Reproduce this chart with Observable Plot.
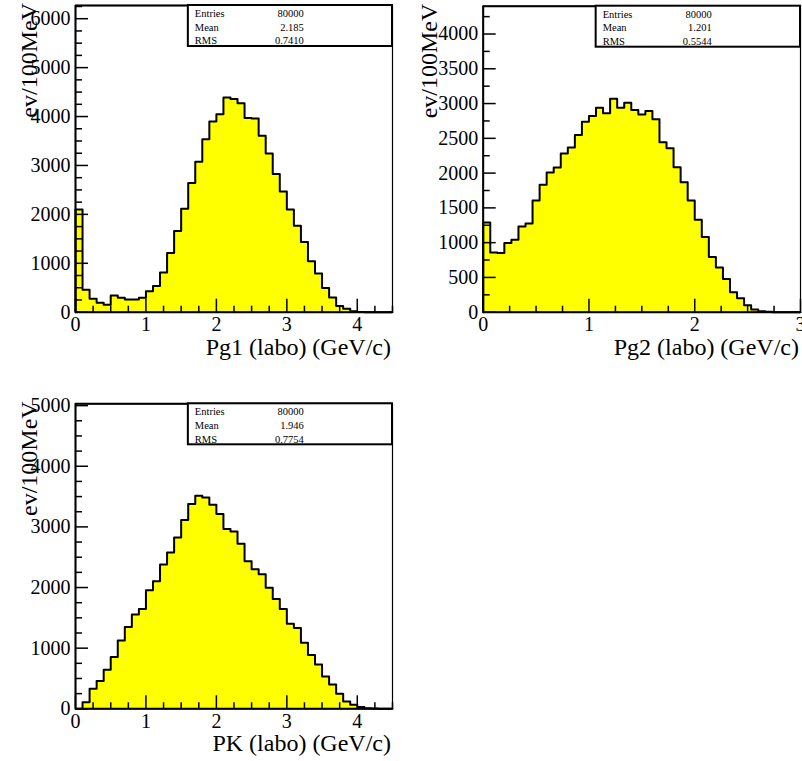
<!DOCTYPE html>
<html>
<head>
<meta charset="utf-8">
<script src="https://cdn.jsdelivr.net/npm/d3@7"></script>
<script src="https://cdn.jsdelivr.net/npm/@observablehq/plot@0.6"></script>
<style>
  body { margin: 0; background: #fff; }
  #page { position: relative; width: 802px; height: 761px; overflow: hidden; background: #fff; }
  .panel { position: absolute; }
  .panel svg { overflow: visible; font-family: "Liberation Serif", serif; }
  .panel svg text { font-family: "Liberation Serif", serif; }
</style>
</head>
<body>
<div id="page"></div>
<script>
// Bin contents, 45 bins each
const pg1Counts = [2100, 459, 274, 192, 151, 342, 294, 262, 262, 294,
  428, 537, 814, 1210, 1662, 2113, 2640, 3077, 3535, 3898,
  4049, 4390, 4356, 4274, 3970, 3960, 3605, 3245, 2823, 2469,
  2102, 1769, 1435, 1041, 789, 497, 299, 129, 68, 20,
  5, 0, 0, 0, 0];
const pg2Counts = [1290, 860, 851, 995, 1040, 1233, 1275, 1605, 1833, 2010,
  2081, 2281, 2367, 2548, 2738, 2820, 2939, 2859, 3068, 2939,
  3011, 2906, 2844, 2892, 2773, 2443, 2357, 2086, 1867, 1605,
  1329, 1081, 795, 643, 476, 286, 200, 100, 38, 14,
  5, 0, 0, 0, 0];
const pkCounts = [0, 110, 330, 457, 644, 853, 1128, 1348, 1557, 1646,
  1954, 2102, 2378, 2576, 2827, 3114, 3377, 3514, 3486, 3366,
  3212, 2965, 2926, 2724, 2433, 2300, 2218, 1998, 1811, 1646,
  1403, 1332, 1090, 886, 732, 534, 402, 248, 121, 66,
  28, 11, 5, 0, 0];

// Statistics box entries
const statLabels = ["Entries", "Mean", "RMS"];
const pg1Stats = ["80000", "2.185", "0.7410"];
const pg2Stats = ["80000", "1.201", "0.5544"];
const pkStats = ["80000", "1.946", "0.7754"];

// Axis ticks
const xTicks45 = [0, 1, 2, 3, 4];
const xTicks3 = [0, 1, 2, 3];
const yTicksPg1 = [0, 1000, 2000, 3000, 4000, 5000, 6000];
const yTicksPg2 = [0, 500, 1000, 1500, 2000, 2500, 3000, 3500, 4000];
const yTicksPk = [0, 1000, 2000, 3000, 4000, 5000];

const yTitle = "ev/100MeV";
const serif = "Liberation Serif";

function histogram(counts, lo, hi) {
  const w = (hi - lo) / counts.length;
  return counts.map((n, i) => ({x1: lo + i * w, x2: lo + (i + 1) * w, n}));
}

// Step contour of a histogram: up from zero, across every bin, back down
function contour(bins) {
  const pts = [{x: bins[0].x1, y: 0}];
  bins.forEach(b => pts.push({x: b.x1, y: b.n}));
  const last = bins[bins.length - 1];
  pts.push({x: last.x2, y: last.n});
  pts.push({x: last.x2, y: 0});
  return pts;
}

function drawPanel(cfg) {
  const {counts, xMax, yMax, xMajor, yMajor, title, stats, left, top, width, height, margin} = cfg;
  const bins = histogram(counts, 0, xMax);
  const pts = contour(bins);
  const fw = width - margin.left - margin.right;
  const fh = height - margin.top - margin.bottom;
  const yMinor = d3.range(0, yMax, 250).filter(v => !yMajor.includes(v));
  const xMinor = d3.range(0, xMax + 1e-9, 0.25).filter(v => !xMajor.includes(v));
  const tickStyle = {stroke: "black", strokeWidth: 1.5};

  const plot = Plot.plot({
    width, height,
    marginLeft: margin.left, marginRight: margin.right,
    marginTop: margin.top, marginBottom: margin.bottom,
    x: {domain: [0, xMax]},
    y: {domain: [0, yMax]},
    style: {fontFamily: serif, background: "transparent", color: "black", overflow: "visible"},
    marks: [
      Plot.areaY(pts, {x: "x", y: "y", curve: "step-after", fill: "#ffff00"}),
      Plot.line(pts, {x: "x", y: "y", curve: "step-after", stroke: "black", strokeWidth: 2}),
      Plot.tickY(yMajor, {y: d => d, insetRight: fw - 13, ...tickStyle}),
      Plot.tickY(yMinor, {y: d => d, insetRight: fw - 7, ...tickStyle}),
      Plot.tickX(xMajor, {x: d => d, insetTop: fh - 13, ...tickStyle}),
      Plot.tickX(xMinor, {x: d => d, insetTop: fh - 6, ...tickStyle}),
      Plot.axisY(yMajor, {tickSize: 0, tickPadding: 5, fontSize: 20, fontFamily: serif, label: null, tickFormat: d => String(d)}),
      Plot.axisX(xMajor, {tickSize: 0, tickPadding: 5, fontSize: 20, fontFamily: serif, label: null, tickFormat: d => String(d)}),
      Plot.frame({stroke: "black", strokeWidth: 1.2}),
      Plot.ruleY([yMax], {stroke: "black", strokeWidth: 2}),
      Plot.ruleX([0], {stroke: "black", strokeWidth: 2}),
      Plot.ruleY([0], {stroke: "black", strokeWidth: 2})
    ]
  });

  const svg = d3.select(plot);
  const frameRight = margin.left + fw;
  const frameBottom = margin.top + fh;

  // statistics box in the upper right corner of the frame
  const bx = margin.left + 0.356 * fw;
  const by = margin.top;
  const box = svg.append("g").attr("font-family", serif).attr("font-size", 10.5);
  box.append("rect")
    .attr("x", bx).attr("y", by)
    .attr("width", frameRight - bx).attr("height", 41)
    .attr("fill", "white").attr("stroke", "black").attr("stroke-width", 2);
  statLabels.forEach((lab, i) => {
    const yy = by + 12 + i * 13.7;
    box.append("text").attr("x", bx + 7).attr("y", yy).attr("text-anchor", "start").text(lab);
    box.append("text").attr("x", bx + 116).attr("y", yy).attr("text-anchor", "end").text(stats[i]);
  });

  // axis titles
  svg.append("text")
    .attr("transform", `translate(37,${margin.top - 2}) rotate(-90)`)
    .attr("text-anchor", "end")
    .attr("font-family", serif).attr("font-size", 24)
    .text(yTitle);
  svg.append("text")
    .attr("x", frameRight - 1).attr("y", frameBottom + 43)
    .attr("text-anchor", "end")
    .attr("font-family", serif).attr("font-size", 24)
    .text(title);

  const div = document.createElement("div");
  div.className = "panel";
  div.style.left = left + "px";
  div.style.top = top + "px";
  div.appendChild(plot);
  document.getElementById("page").appendChild(div);
}

drawPanel({
  counts: pg1Counts, xMax: 4.5, yMax: 6270, xMajor: xTicks45, yMajor: yTicksPg1,
  title: "Pg1 (labo) (GeV/c)", stats: pg1Stats,
  left: 0, top: 0, width: 400, height: 380,
  margin: {left: 75, right: 8, top: 5, bottom: 68.3}
});
drawPanel({
  counts: pg2Counts, xMax: 3, yMax: 4400, xMajor: xTicks3, yMajor: yTicksPg2,
  title: "Pg2 (labo) (GeV/c)", stats: pg2Stats,
  left: 400, top: 0, width: 402, height: 380,
  margin: {left: 82.7, right: 2, top: 5.7, bottom: 68.3}
});
drawPanel({
  counts: pkCounts, xMax: 4.5, yMax: 5030, xMajor: xTicks45, yMajor: yTicksPk,
  title: "PK (labo) (GeV/c)", stats: pkStats,
  left: 0, top: 380, width: 400, height: 381,
  margin: {left: 75, right: 8, top: 23.3, bottom: 52.7}
});
</script>
</body>
</html>
